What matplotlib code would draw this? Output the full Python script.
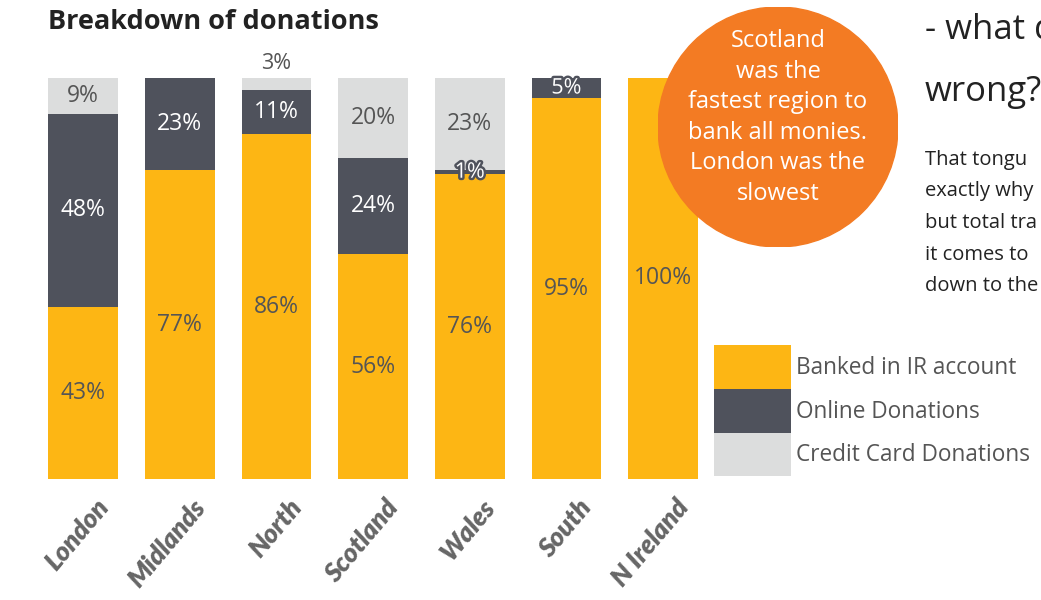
import numpy as np
import matplotlib.pyplot as plt
import matplotlib.patheffects as pe
from matplotlib.patches import Circle

regions = ['London', 'Midlands', 'North', 'Scotland', 'Wales', 'South', 'N Ireland']
series = ['Banked in IR account', 'Online Donations', 'Credit Card Donations']
banked = [43, 77, 86, 56, 76, 95, 100]
online = [48, 23, 11, 24, 1, 5, 0]
credit = [9, 0, 3, 20, 23, 0, 0]

colors = ['#FDB614', '#4F525C', '#DCDDDD']
text_colors = ['#555555', '#FFFFFF', '#555555']

plt.rcParams['font.family'] = ['Open Sans', 'DejaVu Sans']

fig = plt.figure(figsize=(10.41, 6), dpi=100)
ax = fig.add_axes([34.7 / 1041, 121 / 600, 676.7 / 1041, 401 / 600])

x = np.arange(len(regions))
data = [banked, online, credit]
bottom = np.zeros(len(regions))
handles = []
for k, vals in enumerate(data):
    vals = np.array(vals, dtype=float)
    b = ax.bar(x, vals, bottom=bottom, width=0.72, color=colors[k], label=series[k])
    handles.append(b)
    for i, v in enumerate(vals):
        if v == 0:
            continue
        is_top = bottom[i] + v >= 99.9
        if v < 4 and is_top:
            ax.text(i, bottom[i] + v + 1, f'{int(v)}%', ha='center', va='bottom',
                    color='#555555', fontsize=15.5)
        elif v < 6:
            ax.text(i, bottom[i] + v / 2, f'{int(v)}%', ha='center', va='center',
                    color='white', fontsize=15.5,
                    path_effects=[pe.withStroke(linewidth=3.5, foreground='#4F525C')])
        else:
            ax.text(i, bottom[i] + v / 2, f'{int(v)}%', ha='center', va='center',
                    color=text_colors[k], fontsize=16.5)
    bottom += vals

ax.set_xlim(-0.5, len(regions) - 0.5)
ax.set_ylim(0, 100)
ax.axis('off')

# slanted region names under the bars
for i, name in enumerate(regions):
    ax.text(i + 0.12, -4, name, rotation=50, rotation_mode='anchor', ha='right', va='top',
            fontsize=19, fontweight='heavy', style='italic', color='#666666',
            family=['Lato', 'DejaVu Sans'])

fig.text(48 / 1041, 1 - 22 / 600, 'Breakdown of donations', fontsize=19.5,
         fontweight='bold', color='#222222', va='center', ha='left')

# legend as stacked colour blocks
fig.legend(handles=handles, labels=series, loc='upper left',
           bbox_to_anchor=(714 / 1041, 1 - 345 / 600), frameon=False,
           fontsize=16.3, handlelength=3.38, handleheight=2.6, labelspacing=0,
           handletextpad=0.26, borderpad=0, borderaxespad=0, labelcolor='#555555')

# orange call-out circle in its own square axes so it stays round
cax = fig.add_axes([(778 - 120) / 1041, 1 - (127 + 120) / 600, 240 / 1041, 240 / 600])
cax.set_xlim(-1, 1)
cax.set_ylim(-1, 1)
cax.set_aspect('equal')
cax.axis('off')
cax.add_patch(Circle((0, 0), 1, color='#F37B23'))
cax.text(0, 0.08, 'Scotland\nwas the\nfastest region to\nbank all monies.\nLondon was the\nslowest',
         ha='center', va='center', color='white', fontsize=17, linespacing=1.36)

fig.text(925 / 1041, 1 - 30 / 600, '- what d', fontsize=25, color='#222222',
         va='center', ha='left')
fig.text(925 / 1041, 1 - 92 / 600, 'wrong?', fontsize=25, color='#222222',
         va='center', ha='left')
body = ['That tongu', 'exactly why', 'but total tra', 'it comes to', 'down to the']
for j, line in enumerate(body):
    fig.text(925 / 1041, 1 - (160 + 31.5 * j) / 600, line, fontsize=14.5, color='#222222',
             va='center', ha='left')

fig.savefig('out.png', dpi=100)
